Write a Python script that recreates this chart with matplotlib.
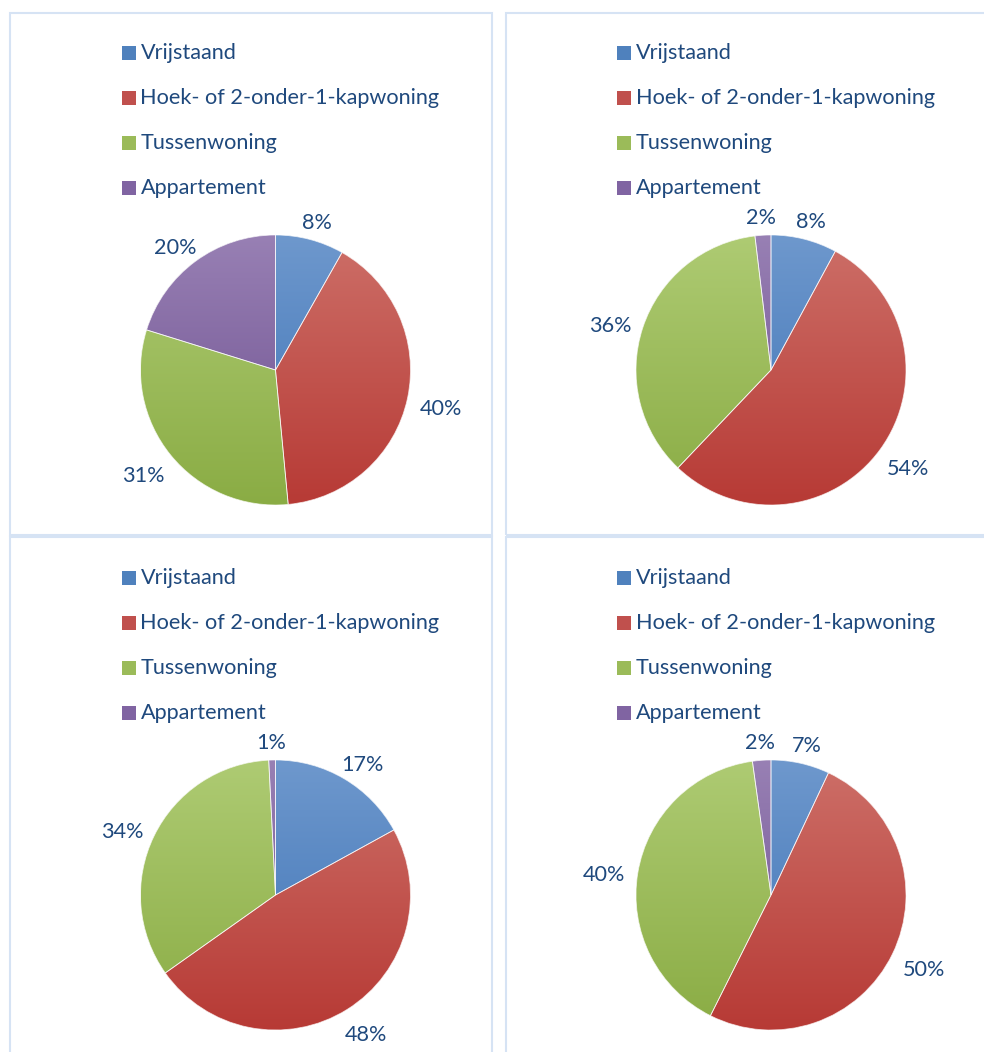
import numpy as np
import matplotlib
matplotlib.use("Agg")
import matplotlib.pyplot as plt
from matplotlib.patches import Rectangle, Wedge
from matplotlib.colors import LinearSegmentedColormap

plt.rcParams['font.family'] = ['Lato', 'DejaVu Sans']

# woningtypes en aandelen (in %) per grafiek
categorieen = ["Vrijstaand", "Hoek- of 2-onder-1-kapwoning", "Tussenwoning", "Appartement"]
aandeel_lb = [8.2, 40.3, 31.3, 20.2]
aandeel_rb = [7.9, 54.2, 36.0, 1.9]
aandeel_lo = [17.0, 48.2, 34.0, 0.8]
aandeel_ro = [7.0, 50.4, 40.4, 2.2]

# kleuren (verloop van boven naar onder)
kleur_boven = ["#6E98CD", "#CD6F68", "#AECB73", "#9880B4"]
kleur_onder = ["#3D72B5", "#B73A35", "#8AAC44", "#6C4E8E"]
kleur_legenda = ["#4F81BD", "#C0504D", "#9BBB59", "#8064A2"]
tekstkleur = "#1F497D"
randkleur = "#D6E3F4"
fontgrootte = 15.6

W, H = 984, 1052
fig = plt.figure(figsize=(W / 100, H / 100), dpi=100)
R = 135  # straal in pixels

# panelen: (links, boven, breedte, hoogte) in pixels
panelen = [(10, 13, 482, 522), (506, 13, 490, 522), (10, 537, 482, 530), (506, 537, 490, 530)]
middens = [(275.5, 370), (771, 370), (275.5, 895), (771, 895)]
alle_data = [aandeel_lb, aandeel_rb, aandeel_lo, aandeel_ro]

for (x, y, b, h) in panelen:
    fig.patches.append(Rectangle((x / W, 1 - (y + h) / H), b / W, h / H,
                                 transform=fig.transFigure, fill=False,
                                 edgecolor=randkleur, linewidth=1.5))

alle_labels = []
for (cx, cy), data in zip(middens, alle_data):
    ax = fig.add_axes([(cx - R) / W, (H - cy - R) / H, 2 * R / W, 2 * R / H])
    wedges, _, pct = ax.pie(data, startangle=90, counterclock=False, radius=1,
                            colors=kleur_onder, autopct="%.0f%%",
                            wedgeprops=dict(edgecolor="white", linewidth=0.6),
                            textprops=dict(color=tekstkleur, fontsize=fontgrootte))
    ax.set_xlim(-1, 1)
    ax.set_ylim(-1, 1)
    ax.set_aspect("equal")
    ax.axis("off")

    # verloop in elke taartpunt
    verloop = np.linspace(0, 1, 256).reshape(-1, 1)
    for w, kb, ko in zip(wedges, kleur_boven, kleur_onder):
        cmap = LinearSegmentedColormap.from_list("v", [ko, kb])
        im = ax.imshow(verloop, cmap=cmap, extent=[-1, 1, -1, 1], origin="lower",
                       aspect="auto", zorder=w.get_zorder() + 0.1)
        im.set_clip_path(w)
        ax.add_patch(Wedge(w.center, w.r, w.theta1, w.theta2, facecolor="none",
                           edgecolor="white", linewidth=0.6, alpha=0.7,
                           zorder=w.get_zorder() + 0.2))

    for t, w in zip(pct, wedges):
        t.set_zorder(5)
        alle_labels.append((t, w))

    # legenda
    for i, (naam, kleur) in enumerate(zip(categorieen, kleur_legenda)):
        ry = cy - 317 + 45 * i
        lx = cx - 154
        fig.patches.append(Rectangle((lx / W, 1 - (ry + 7) / H), 14 / W, 14 / H,
                                     transform=fig.transFigure, facecolor=kleur,
                                     edgecolor="none"))
        fig.text((cx - 135) / W, 1 - ry / H, naam, color=tekstkleur,
                 fontsize=fontgrootte, ha="left", va="center")

# percentages net buiten de taart plaatsen
fig.canvas.draw()
renderer = fig.canvas.get_renderer()
for t, w in alle_labels:
    t.set_ha("center")
    t.set_va("center")
    bb = t.get_window_extent(renderer)
    hoek = np.deg2rad((w.theta1 + w.theta2) / 2)
    dx, dy = np.cos(hoek), np.sin(hoek)
    tb = bb.width / R
    th = bb.height / R
    t.set_position((1.1 * dx + tb / 2 * dx, 1.1 * dy + th / 2 * dy - 6 / R))

fig.savefig("out.png", dpi=100)
